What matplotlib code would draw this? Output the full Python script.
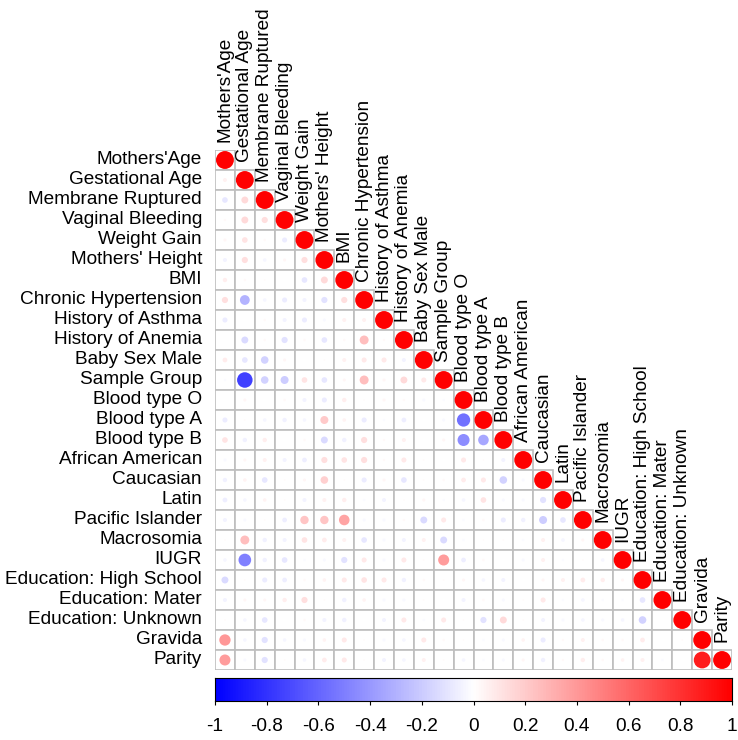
import numpy as np
import matplotlib
matplotlib.use("Agg")
import matplotlib.pyplot as plt
from matplotlib.colors import LinearSegmentedColormap
from matplotlib.patches import Rectangle

plt.rcParams['font.family'] = ['Liberation Sans', 'DejaVu Sans']

# === DATA ===
labels = ["Mothers'Age", "Gestational Age", "Membrane Ruptured", "Vaginal Bleeding",
          "Weight Gain", "Mothers' Height", "BMI", "Chronic Hypertension",
          "History of Asthma", "History of Anemia", "Baby Sex Male", "Sample Group",
          "Blood type O", "Blood type A", "Blood type B", "African American",
          "Caucasian", "Latin", "Pacific Islander", "Macrosomia", "IUGR",
          "Education: High School", "Education: Mater", "Education: Unknown",
          "Gravida", "Parity"]

# lower triangle, row j holds correlations with columns 0..j-1 (diagonal = 1)
lower_rows = [
    [],
    [0.05],
    [-0.1, 0.15],
    [0.02, 0.15, 0.12],
    [0.03, 0.1, 0.02, -0.08],
    [-0.05, 0.12, -0.04, 0.03, 0.12],
    [0.06, 0.02, 0.01, 0.0, -0.1, 0.15],
    [0.12, -0.3, -0.04, -0.08, -0.05, -0.12, 0.12],
    [-0.08, 0.0, 0.02, -0.05, -0.08, -0.03, 0.05, 0.05],
    [0.0, -0.15, 0.02, -0.12, 0.02, -0.1, 0.02, 0.25, 0.02],
    [0.07, -0.1, -0.18, 0.03, 0.0, 0.01, 0.05, 0.08, 0.08, -0.05],
    [-0.02, -0.75, -0.18, -0.2, 0.1, -0.1, 0.03, 0.25, 0.03, 0.15, 0.08],
    [0.0, 0.03, 0.0, 0.02, -0.05, -0.08, 0.06, 0.01, 0.03, 0.02, -0.03, -0.02],
    [-0.08, 0.01, -0.04, -0.06, -0.04, 0.2, 0.04, -0.08, -0.02, -0.07, 0.0, -0.03, -0.55],
    [0.1, -0.06, 0.06, 0.0, 0.02, -0.15, -0.06, 0.12, 0.02, 0.05, 0.0, 0.03, -0.45, -0.35],
    [-0.03, 0.03, 0.05, -0.05, -0.07, 0.12, 0.1, 0.12, 0.02, 0.08, 0.01, 0.0, 0.08, 0.01, -0.05],
    [-0.06, 0.04, -0.1, 0.01, 0.03, 0.18, 0.01, -0.08, 0.03, -0.1, 0.01, 0.02, 0.07, 0.08,
     -0.18, -0.03],
    [-0.07, -0.04, 0.04, 0.01, -0.05, 0.05, 0.06, -0.02, -0.05, 0.01, 0.03, -0.02, -0.04,
     0.1, -0.03, -0.03, -0.12],
    [-0.05, -0.03, 0.01, -0.07, 0.22, 0.22, 0.35, -0.03, -0.03, 0.02, -0.15, 0.08, -0.02,
     0.02, -0.08, -0.06, -0.2, -0.1],
    [0.01, 0.25, -0.06, -0.05, 0.1, 0.07, 0.05, -0.1, -0.03, -0.05, 0.05, -0.15, -0.02,
     0.01, 0.01, -0.02, 0.05, -0.04, 0.03],
    [-0.04, -0.5, -0.06, -0.1, -0.02, -0.03, -0.12, 0.08, -0.03, 0.08, 0.01, 0.38, -0.07,
     0.02, 0.0, -0.03, 0.05, -0.02, 0.01, -0.04],
    [-0.15, 0.01, -0.08, -0.07, 0.02, 0.04, 0.08, 0.1, 0.08, -0.06, 0.02, 0.01, 0.03,
     -0.04, -0.05, 0.0, 0.03, 0.05, 0.07, 0.06, 0.03],
    [-0.05, 0.03, 0.03, 0.06, 0.12, 0.01, -0.06, 0.04, -0.03, -0.03, 0.01, 0.0, -0.05,
     0.02, -0.03, 0.01, 0.08, -0.02, -0.04, -0.02, -0.02, -0.1],
    [0.01, -0.04, -0.1, 0.0, 0.02, -0.05, -0.06, 0.0, -0.05, 0.08, -0.02, 0.08, 0.01,
     -0.12, 0.15, 0.01, -0.05, -0.03, -0.04, -0.03, -0.04, -0.18, 0.0],
    [0.4, -0.04, -0.12, -0.04, -0.03, 0.04, 0.08, 0.01, -0.03, -0.04, 0.08, 0.02, 0.01,
     -0.02, -0.03, 0.04, -0.08, 0.02, 0.05, 0.02, 0.02, 0.07, 0.0, 0.01],
    [0.38, -0.03, -0.12, 0.01, -0.04, 0.07, 0.08, 0.01, -0.05, -0.04, 0.05, 0.01, -0.04,
     -0.02, -0.03, 0.03, -0.06, 0.02, 0.06, 0.02, 0.04, 0.05, -0.02, 0.0, 0.88],
]

cbar_ticks = [-1, -0.8, -0.6, -0.4, -0.2, 0, 0.2, 0.4, 0.6, 0.8, 1]

n = len(labels)
xs, ys, vals = [], [], []
for j, row in enumerate(lower_rows):
    for i, v in enumerate(row + [1.0]):
        xs.append(i)
        ys.append(j)
        vals.append(v)
xs = np.array(xs)
ys = np.array(ys)
vals = np.array(vals)

cmap = LinearSegmentedColormap.from_list("bwr2", ["#0000FF", "#FFFFFF", "#FF0000"], N=200)

# === FIGURE ===
W, H = 738, 740
fig = plt.figure(figsize=(W / 100, H / 100), dpi=100)
gl, gr, gt, gb = 215, 732, 150, 670
ax = fig.add_axes([gl / W, 1 - gb / H, (gr - gl) / W, (gb - gt) / H])
ax.set_xlim(-0.5, n - 0.5)
ax.set_ylim(n - 0.5, -0.5)
ax.axis('off')

cell_px = (gr - gl) / n
# grid for lower triangle
for j in range(n):
    for i in range(j + 1):
        ax.add_patch(Rectangle((i - 0.5, j - 0.5), 1, 1, facecolor='white',
                               edgecolor='#bebebe', linewidth=1.2, zorder=1))

# circles: diameter = 0.9 * sqrt(|r|) cells
diam_pt = 0.9 * np.sqrt(np.abs(vals)) * cell_px * 0.72
ax.scatter(xs, ys, s=diam_pt ** 2, c=vals, cmap=cmap, vmin=-1, vmax=1,
           edgecolors='none', zorder=2)

fs = 13.7
for j, lab in enumerate(labels):
    ax.text(-0.5 - 13 / cell_px, j, lab, ha='right', va='center', fontsize=fs,
            clip_on=False)
    ax.text(j, j - 0.5 - 0.4, lab, ha='center', va='bottom', rotation=90,
            fontsize=fs, clip_on=False)

# === COLOR LEGEND ===
cax = fig.add_axes([gl / W, 1 - 701 / H, (gr - gl) / W, 23 / H])
grad = np.linspace(-1, 1, 400).reshape(1, -1)
cax.imshow(grad, cmap=cmap, vmin=-1, vmax=1, aspect='auto', extent=[-1, 1, 0, 1])
cax.set_xlim(-1, 1)
cax.set_yticks([])
cax.set_xticks(cbar_ticks)
cax.set_xticklabels([f"{t:g}" for t in cbar_ticks], fontsize=fs)
cax.tick_params(axis='x', direction='out', length=3, width=0.8, pad=9)
for sp in cax.spines.values():
    sp.set_linewidth(0.8)
    sp.set_color('black')

fig.savefig("out.png", dpi=100)
